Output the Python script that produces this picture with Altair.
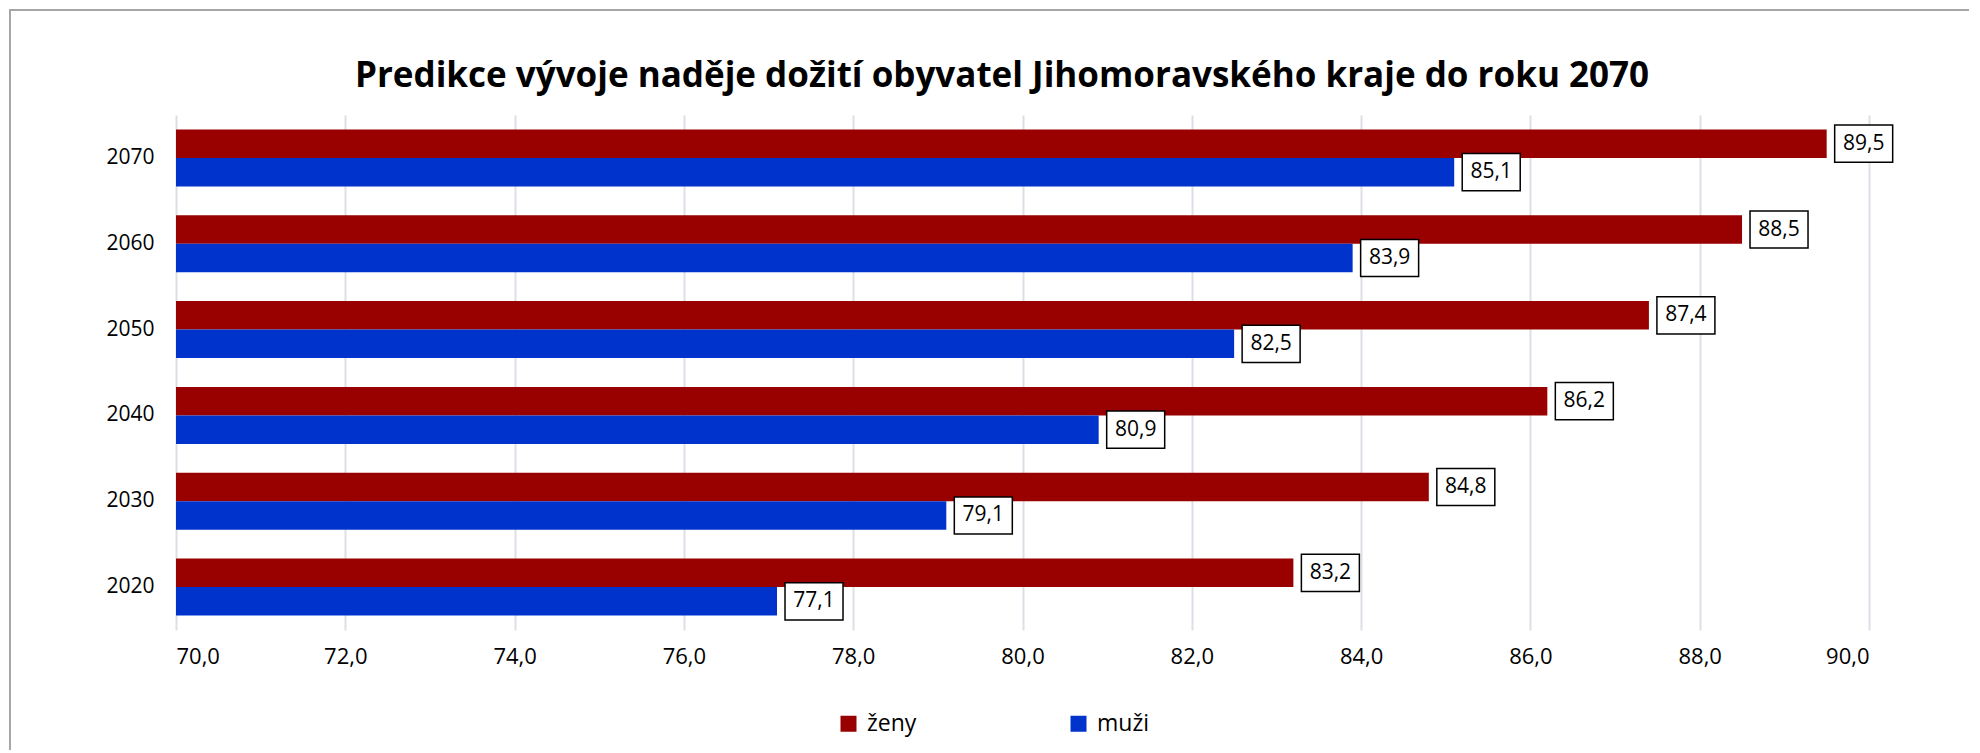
import altair as alt
import pandas as pd

years = ["2020", "2030", "2040", "2050", "2060", "2070"]
zeny = [83.2, 84.8, 86.2, 87.4, 88.5, 89.5]
muzi = [77.1, 79.1, 80.9, 82.5, 83.9, 85.1]
series_names = ["ženy", "muži"]
series_colors = ["#990000", "#0033CC"]
title_text = "Predikce vývoje naděje dožití obyvatel Jihomoravského kraje do roku 2070"

rows = []
for i, y in enumerate(years):
    rows.append({"year": y, "series": series_names[0], "value": zeny[i]})
    rows.append({"year": y, "series": series_names[1], "value": muzi[i]})
df = pd.DataFrame(rows)

W, H = 1693, 515
FONT = "Open Sans"
year_sort = list(reversed(years))

base = alt.Chart(df).transform_calculate(
    label="replace(format(datum.value, '.1f'), '.', ',')"
)

y_enc = alt.Y(
    "year:N",
    sort=year_sort,
    title=None,
    scale=alt.Scale(paddingInner=0.336, paddingOuter=0.168),
    axis=alt.Axis(
        ticks=False, domain=False, labelFont=FONT, labelFontSize=21,
        labelColor="#000000", labelPadding=22, grid=False,
    ),
)
yoff = alt.YOffset("series:N", sort=series_names,
                   scale=alt.Scale(paddingInner=0, paddingOuter=0))

x_enc = alt.X(
    "value:Q",
    title=None,
    scale=alt.Scale(domain=[70, 90], zero=False, nice=False),
    axis=alt.Axis(
        values=[70, 72, 74, 76, 78, 80, 82, 84, 86, 88, 90],
        labelExpr="replace(format(datum.value, '.1f'), '.', ',')",
        ticks=False, domain=False, grid=True, gridColor="#DCE0E6", gridWidth=2,
        labelFont=FONT, labelFontSize=22, labelColor="#000000", labelPadding=16,
    ),
)

bars = base.mark_bar().encode(
    y=y_enc,
    yOffset=yoff,
    x=x_enc,
    x2=alt.datum(70),
    color=alt.Color(
        "series:N",
        sort=series_names,
        scale=alt.Scale(domain=series_names, range=series_colors),
        legend=alt.Legend(
            title=None, orient="none", direction="horizontal",
            legendX=661, legendY=597, symbolType="square", symbolSize=256,
            symbolStrokeWidth=0, labelFont=FONT, labelFontSize=23,
            labelColor="#000000", columnPadding=150, labelOffset=7, padding=0,
        ),
    ),
)

boxes = base.mark_point(
    shape="M-1,-0.64H1V0.64H-1Z", size=3364, filled=False, fill="white",
    fillOpacity=1, stroke="black", strokeWidth=1.5, opacity=1, xOffset=37,
).encode(y=alt.Y("year:N", sort=year_sort), yOffset=yoff, x=alt.X("value:Q"))

texts = base.mark_text(
    font=FONT, fontSize=21, color="black", align="center", baseline="middle", dx=37,
).encode(y=alt.Y("year:N", sort=year_sort), yOffset=yoff, x=alt.X("value:Q"),
         text="label:N")

border = alt.Chart(pd.DataFrame({"a": [0]})).mark_rect(
    fill=None, stroke="#A6A6A6", strokeWidth=2,
).encode(
    x=alt.value(-166), x2=alt.value(W + 300),
    y=alt.value(-105), y2=alt.value(H + 300),
)

title = alt.Chart(pd.DataFrame({"t": [title_text]})).mark_text(
    font=FONT, fontSize=35, fontWeight="bold", color="black",
    align="center", baseline="middle",
).encode(text="t:N", x=alt.value(826), y=alt.value(-39))

chart = alt.layer(border, title, bars, boxes, texts).properties(
    width=W, height=H,
    autosize=alt.AutoSizeParams(type="none"),
    padding={"left": 168, "top": 107, "right": 100, "bottom": 120},
    background="white",
).configure_view(stroke=None)

chart.save("out.html", embed_options={"renderer": "svg", "actions": False})
